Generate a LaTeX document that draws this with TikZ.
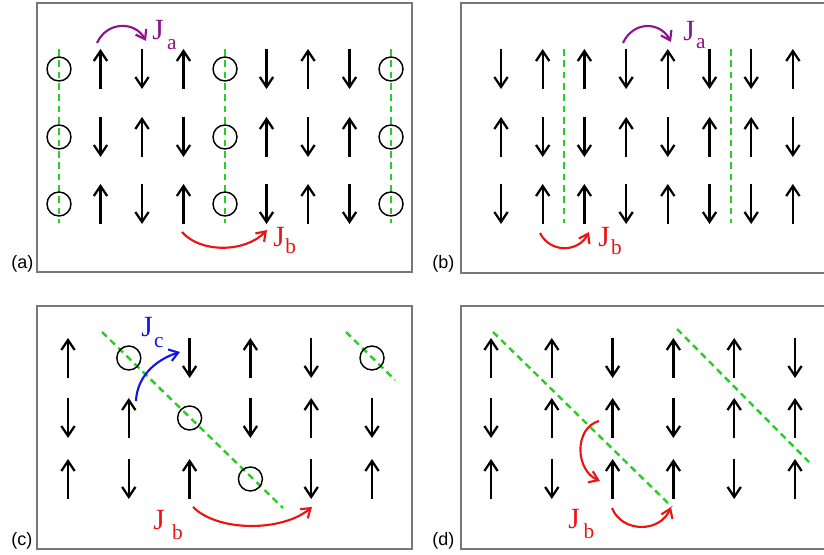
\documentclass[tikz,border=0pt]{standalone}
\usepackage{fontspec}
\setmainfont{Liberation Serif}
\setsansfont{Liberation Sans}
\usetikzlibrary{arrows.meta}
\definecolor{jpurple}{RGB}{140,20,140}
\definecolor{jred}{RGB}{235,20,20}
\definecolor{jblue}{RGB}{20,20,230}
\definecolor{lgreen}{RGB}{40,205,40}
\definecolor{boxgray}{RGB}{120,120,120}
\newcommand\spinat[3]{%
  \if#3u\draw[spin] (#1,#2+20) -- (#1,#2-20);\fi
  \if#3d\draw[spin] (#1,#2-20) -- (#1,#2+20);\fi
  \if#3o\draw[hole] (#1,#2) circle[radius=9pt];\fi}
% J label: gap, drop, subscript letter
\newcommand\jtxt[3]{J\hspace{#1}\raisebox{-#2}{\fontsize{16}{17}\selectfont #3}}
\begin{document}
\begin{tikzpicture}[x=0.75pt,y=-0.75pt,
  spin/.style={line width=1.7pt,-{Straight Barb[length=7.5pt,width=10pt]}},
  hole/.style={line width=1.1pt},
  greenwall/.style={lgreen,line width=1.8pt,dash pattern=on 5pt off 3.5pt},
  jarrow/.style={line width=1.6pt,-{Straight Barb[length=6.5pt,width=9pt]}},
  jl/.style={font=\fontsize{22}{24}\selectfont,inner sep=0pt,anchor=base west},
  plab/.style={font=\sffamily\fontsize{13.5}{15}\selectfont,inner sep=0pt,anchor=base west},
  panel/.style={draw=boxgray,line width=1pt}]
\useasboundingbox (0,0) rectangle (824,555);
% frames
\draw[panel] (37,3) rectangle (412,272);
\draw[panel] (461,3) rectangle (830,273);
\draw[panel] (37,306) rectangle (412,549);
\draw[panel] (461,306) rectangle (830,549);
\node[plab] (la) at (11,269) {(a)};
\node[plab] (lb) at (432,269) {(b)};
\node[plab] (lc) at (11,545) {(c)};
\node[plab] (ld) at (432,545) {(d)};
% ---------- panel (a)
\foreach \xx in {59,225,391} \draw[greenwall] (\xx,49) -- (\xx,223);
\foreach \r/\pat in {69/{o,u,d,u,o,d,u,d,o},137/{o,d,u,d,o,u,d,u,o},204/{o,u,d,u,o,d,u,d,o}}{
  \foreach \t [count=\i from 0] in \pat {\spinat{59+41.5*\i}{\r}{\t}}}
\coordinate (a1) at (97,43); \coordinate (a2) at (146,41);
\draw[jarrow,jpurple] (a1) .. controls (107,21) and (135,21) .. (a2);
\node[jl,jpurple] (ja) at (152,40) {\jtxt{2.5pt}{7pt}{a}};
\coordinate (a3) at (182,232); \coordinate (a4) at (267,230);
\draw[jarrow,jred] (a3) .. controls (200,253) and (245,253) .. (a4);
\node[jl,jred] (jb) at (273,247) {\jtxt{0.5pt}{5pt}{b}};
% ---------- panel (b)
\foreach \xx in {564,731} \draw[greenwall] (\xx,49) -- (\xx,223);
\foreach \r/\pat in {69/{d,u,u,d,u,d,d,u},137/{u,d,d,u,d,u,u,d},204/{d,u,u,d,u,d,d,u}}{
  \foreach \t [count=\i from 0] in \pat {\spinat{501+41.7*\i}{\r}{\t}}}
\coordinate (b1) at (623,43); \coordinate (b2) at (671,42);
\draw[jarrow,jpurple] (b1) .. controls (633,21) and (660,21) .. (b2);
\node[jl,jpurple] (jab) at (683,41) {\jtxt{1pt}{6pt}{a}};
\coordinate (b3) at (540,233); \coordinate (b4) at (589,232);
\draw[jarrow,jred] (b3) .. controls (550,253) and (578,253) .. (b4);
\node[jl,jred] (jbb) at (598,247) {\jtxt{1pt}{6pt}{b}};
% ---------- panel (c)
\draw[greenwall] (102,332) -- (283,508);
\draw[greenwall] (346,332) -- (395,380);
\foreach \r/\pat in {358/{u,o,d,u,d,o},418/{d,u,o,d,u,d},479/{u,d,u,o,d,u}}{
  \foreach \t [count=\i from 0] in \pat {\spinat{68+60.8*\i}{\r}{\t}}}
\coordinate (c1) at (136,401); \coordinate (c2) at (180,352);
\draw[jarrow,jblue] (c1) .. controls (137,377) and (155,360) .. (c2);
\node[jl,jblue] (jc) at (141,337) {\jtxt{1pt}{8pt}{c}};
\coordinate (c3) at (193,507); \coordinate (c4) at (312,507);
\draw[jarrow,jred] (c3) .. controls (218,532) and (282,532) .. (c4);
\node[jl,jred] (jbc) at (153,529) {\jtxt{5.5pt}{8pt}{b}};
% ---------- panel (d)
\draw[greenwall] (493,332) -- (672,507);
\draw[greenwall] (677,329) -- (809,462);
\foreach \r/\pat in {358/{u,u,d,u,u,d},418/{d,u,u,d,u,u},479/{u,d,u,u,d,u}}{
  \foreach \t [count=\i from 0] in \pat {\spinat{491+60.8*\i}{\r}{\t}}}
\coordinate (d1) at (599,421); \coordinate (d2) at (600,481);
\draw[jarrow,jred] (d1) .. controls (574,428) and (575,470) .. (d2);
\coordinate (d3) at (612,508); \coordinate (d4) at (671,507);
\draw[jarrow,jred] (d3) .. controls (622,533) and (660,533) .. (d4);
\node[jl,jred] (jbd) at (568,528) {\jtxt{3pt}{7.5pt}{b}};
\end{tikzpicture}
\end{document}
